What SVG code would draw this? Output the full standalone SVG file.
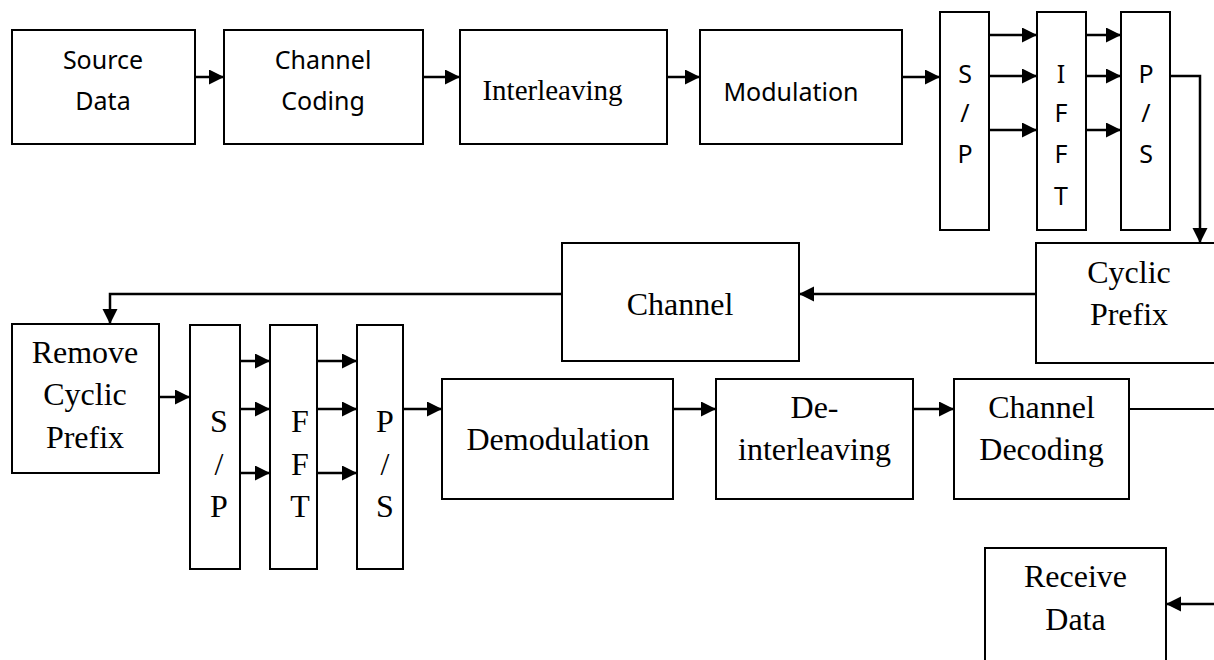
<svg xmlns="http://www.w3.org/2000/svg" width="1214" height="660" viewBox="0 0 1214 660">
<defs>
<marker id="ah" markerUnits="userSpaceOnUse" markerWidth="16" markerHeight="16" refX="15" refY="7.5" orient="auto">
<path d="M0,0 L15,7.5 L0,15 Z" fill="#000"/>
</marker>
<style>
.box{fill:#fff;stroke:#000;stroke-width:2}
.c{fill:none;stroke:#000;stroke-width:2.5;marker-end:url(#ah)}
.ln{fill:none;stroke:#000;stroke-width:2}
.s{font-family:"Noto Sans","Open Sans",sans-serif;font-size:25px;text-anchor:middle;fill:#000}
.t{font-family:"Liberation Serif","Times New Roman",serif;font-size:32px;text-anchor:middle;fill:#000}
</style>
</defs>
<rect width="1214" height="660" fill="#fff"/>
<g id="connectors">
<path class="c" d="M195,77 H224"/>
<path class="c" d="M423,77 H460"/>
<path class="c" d="M667,77 H700"/>
<path class="c" d="M902,77 H940"/>
<path class="c" d="M989,35 H1037"/>
<path class="c" d="M989,76 H1037"/>
<path class="c" d="M989,130 H1037"/>
<path class="c" d="M1086,35 H1121"/>
<path class="c" d="M1086,76 H1121"/>
<path class="c" d="M1086,130 H1121"/>
<path class="c" d="M1170,76 H1200 V243"/>
<path class="c" d="M1036,294 H799"/>
<path class="c" d="M562,294 H110 V324"/>
<path class="c" d="M159,397 H190"/>
<path class="c" d="M240,361 H270"/>
<path class="c" d="M240,409 H270"/>
<path class="c" d="M240,473 H270"/>
<path class="c" d="M317,361 H357"/>
<path class="c" d="M317,409 H357"/>
<path class="c" d="M317,473 H357"/>
<path class="c" d="M403,409 H442"/>
<path class="c" d="M673,409 H716"/>
<path class="c" d="M913,409 H954"/>
<path class="ln" d="M1129,409 H1218 V604"/>
<path class="c" d="M1218,604 H1166"/>
</g>
<g id="source-data"><rect class="box" x="12" y="30" width="183" height="114"/><text class="s" x="103" y="69">Source</text><text class="s" x="103" y="110">Data</text></g>
<g id="channel-coding"><rect class="box" x="224" y="30" width="199" height="114"/><text class="s" x="323" y="69">Channel</text><text class="s" x="323" y="110">Coding</text></g>
<g id="interleaving"><rect class="box" x="460" y="30" width="207" height="114"/><text class="t" x="552.5" y="100" style="font-size:29px">Interleaving</text></g>
<g id="modulation"><rect class="box" x="700" y="30" width="202" height="114"/><text class="s" x="791" y="101">Modulation</text></g>
<g id="sp-tx"><rect class="box" x="940" y="12" width="49" height="218"/><text class="s" x="965" y="83">S</text><text class="s" x="965" y="122">/</text><text class="s" x="965" y="163">P</text></g>
<g id="ifft"><rect class="box" x="1037" y="12" width="49" height="218"/><text class="s" x="1061" y="83">I</text><text class="s" x="1061" y="122">F</text><text class="s" x="1061" y="163">F</text><text class="s" x="1061" y="205">T</text></g>
<g id="ps-tx"><rect class="box" x="1121" y="12" width="49" height="218"/><text class="s" x="1146" y="83">P</text><text class="s" x="1146" y="122">/</text><text class="s" x="1146" y="163">S</text></g>
<g id="cyclic-prefix"><rect class="box" x="1036" y="243" width="190" height="120"/><text class="t" x="1129" y="283">Cyclic</text><text class="t" x="1129" y="325">Prefix</text></g>
<g id="channel"><rect class="box" x="562" y="243" width="237" height="118"/><text class="t" x="680" y="315">Channel</text></g>
<g id="remove-cp"><rect class="box" x="12" y="324" width="147" height="149"/><text class="t" x="85" y="363">Remove</text><text class="t" x="85" y="405">Cyclic</text><text class="t" x="85" y="448">Prefix</text></g>
<g id="sp-rx"><rect class="box" x="190" y="325" width="50" height="244"/><text class="t" x="219" y="432">S</text><text class="t" x="219" y="475">/</text><text class="t" x="219" y="517">P</text></g>
<g id="fft"><rect class="box" x="270" y="325" width="47" height="244"/><text class="t" x="300" y="432">F</text><text class="t" x="300" y="475">F</text><text class="t" x="300" y="517">T</text></g>
<g id="ps-rx"><rect class="box" x="357" y="325" width="46" height="244"/><text class="t" x="385" y="432">P</text><text class="t" x="385" y="475">/</text><text class="t" x="385" y="517">S</text></g>
<g id="demodulation"><rect class="box" x="442" y="379" width="231" height="120"/><text class="t" x="558" y="450">Demodulation</text></g>
<g id="deinterleaving"><rect class="box" x="716" y="379" width="197" height="120"/><text class="t" x="814.5" y="418">De-</text><text class="t" x="814.5" y="460">interleaving</text></g>
<g id="channel-decoding"><rect class="box" x="954" y="379" width="175" height="120"/><text class="t" x="1041.5" y="418">Channel</text><text class="t" x="1041.5" y="460">Decoding</text></g>
<g id="receive-data"><rect class="box" x="985" y="548" width="181" height="130"/><text class="t" x="1075.5" y="587">Receive</text><text class="t" x="1075.5" y="630">Data</text></g>
</svg>
